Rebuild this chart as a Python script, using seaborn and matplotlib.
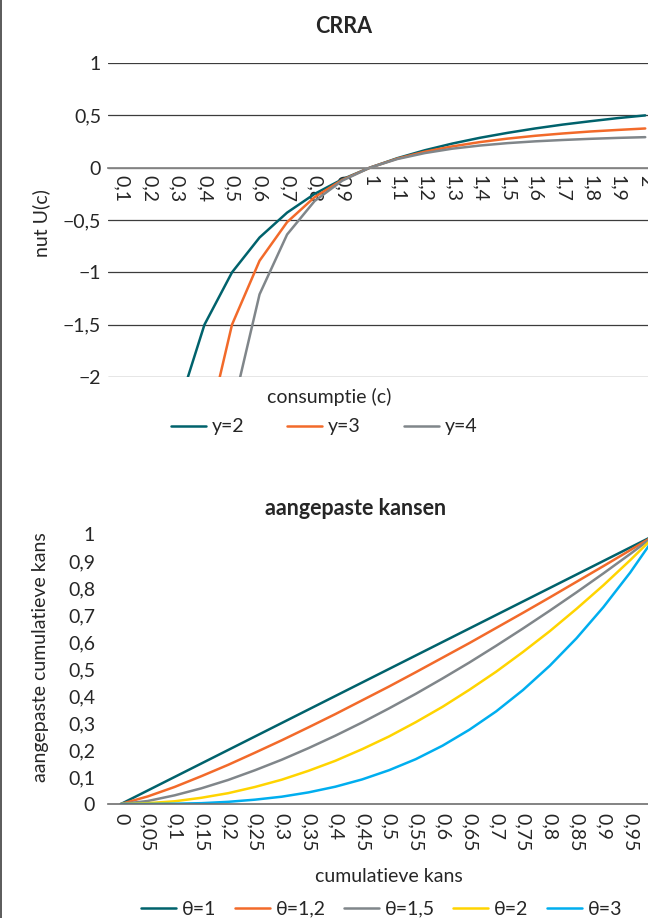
import pandas as pd
import matplotlib.pyplot as plt
from matplotlib.lines import Line2D
import seaborn as sns

# --- CRRA: nut U(c) per consumptieniveau ---
consumptie = ["0,1", "0,2", "0,3", "0,4", "0,5", "0,6", "0,7", "0,8", "0,9", "1",
              "1,1", "1,2", "1,3", "1,4", "1,5", "1,6", "1,7", "1,8", "1,9", "2"]
nut_y2 = [-9.0, -4.0, -2.333, -1.5, -1.0, -0.667, -0.429, -0.25, -0.111, 0.0,
          0.091, 0.167, 0.231, 0.286, 0.333, 0.375, 0.412, 0.444, 0.474, 0.5]
nut_y3 = [-49.5, -12.0, -5.056, -2.625, -1.5, -0.889, -0.52, -0.281, -0.117, 0.0,
          0.087, 0.153, 0.204, 0.245, 0.278, 0.305, 0.327, 0.346, 0.361, 0.375]
nut_y4 = [-333.0, -41.33, -12.01, -4.875, -2.333, -1.21, -0.638, -0.318, -0.124, 0.0,
          0.083, 0.14, 0.182, 0.212, 0.235, 0.252, 0.265, 0.276, 0.285, 0.292]
crra_reeksen = ["y=2", "y=3", "y=4"]
crra_kleuren = ["#00626C", "#F26A2A", "#80868A"]
crra_yticks = [1, 0.5, 0, -0.5, -1, -1.5, -2]
crra_ylabels = ["1", "0,5", "0", "\u22120,5", "\u22121", "\u22121,5", "\u22122"]

# --- aangepaste kansen ---
kans = ["0", "0,05", "0,1", "0,15", "0,2", "0,25", "0,3", "0,35", "0,4", "0,45", "0,5",
        "0,55", "0,6", "0,65", "0,7", "0,75", "0,8", "0,85", "0,9", "0,95", "1"]
w_t1 = [0.0, 0.05, 0.1, 0.15, 0.2, 0.25, 0.3, 0.35, 0.4, 0.45, 0.5,
        0.55, 0.6, 0.65, 0.7, 0.75, 0.8, 0.85, 0.9, 0.95, 1.0]
w_t12 = [0.0, 0.028, 0.063, 0.103, 0.145, 0.19, 0.236, 0.284, 0.333, 0.384, 0.435,
         0.488, 0.542, 0.596, 0.652, 0.708, 0.765, 0.823, 0.881, 0.94, 1.0]
w_t15 = [0.0, 0.011, 0.032, 0.058, 0.089, 0.125, 0.164, 0.207, 0.253, 0.302, 0.354,
         0.408, 0.465, 0.524, 0.586, 0.65, 0.716, 0.784, 0.854, 0.926, 1.0]
w_t2 = [0.0, 0.003, 0.01, 0.023, 0.04, 0.063, 0.09, 0.123, 0.16, 0.203, 0.25,
        0.303, 0.36, 0.423, 0.49, 0.563, 0.64, 0.723, 0.81, 0.903, 1.0]
w_t3 = [0.0, 0.0, 0.001, 0.003, 0.008, 0.016, 0.027, 0.043, 0.064, 0.091, 0.125,
        0.166, 0.216, 0.275, 0.343, 0.422, 0.512, 0.614, 0.729, 0.857, 1.0]
theta_reeksen = ["\u03b8=1", "\u03b8=1,2", "\u03b8=1,5", "\u03b8=2", "\u03b8=3"]
theta_kleuren = ["#00626C", "#F26A2A", "#80868A", "#FFD400", "#00AEEF"]
kans_yticks = [0, 0.1, 0.2, 0.3, 0.4, 0.5, 0.6, 0.7, 0.8, 0.9, 1]
kans_ylabels = ["0", "0,1", "0,2", "0,3", "0,4", "0,5", "0,6", "0,7", "0,8", "0,9", "1"]

sns.set_style("white")
plt.rcParams["font.family"] = ["Lato", "DejaVu Sans"]
TXT = "#262626"
FS = 14

df_crra = pd.DataFrame({"c": consumptie, "y=2": nut_y2, "y=3": nut_y3, "y=4": nut_y4})
df_crra = df_crra.melt(id_vars="c", var_name="reeks", value_name="nut")

df_kans = pd.DataFrame({"p": kans, theta_reeksen[0]: w_t1, theta_reeksen[1]: w_t12,
                        theta_reeksen[2]: w_t15, theta_reeksen[3]: w_t2,
                        theta_reeksen[4]: w_t3})
df_kans = df_kans.melt(id_vars="p", var_name="reeks", value_name="w")

fig = plt.figure(figsize=(6.48, 9.18), dpi=100)
ax1 = fig.add_axes([0.1667, 0.5893, 0.8503, 0.3420])
ax2 = fig.add_axes([0.1660, 0.1242, 0.8685, 0.2941])

# bovenste grafiek
sns.lineplot(data=df_crra, x="c", y="nut", hue="reeks", hue_order=crra_reeksen,
             palette=crra_kleuren, lw=1.8, sort=False, estimator=None, ax=ax1)
h1, l1 = ax1.get_legend_handles_labels()
ax1.get_legend().remove()
# x-as op y=0 (eerst, want dit zet de ticks opnieuw)
ax1.spines["bottom"].set_position(("data", 0))
ax1.set_xlim(-0.5, len(consumptie) - 0.5)
ax1.set_ylim(-2, 1)
ax1.set_xticks(range(len(consumptie)), consumptie, rotation=-90)
ax1.set_yticks(crra_yticks, crra_ylabels)
ax1.yaxis.grid(True, color="#3c3c3c", lw=0.9)
ax1.xaxis.grid(False)
for s in ["top", "right", "left"]:
    ax1.spines[s].set_visible(False)
ax1.spines["bottom"].set_color("#8a8a8a")
ax1.spines["bottom"].set_linewidth(1.3)
ax1.tick_params(axis="x", length=0, pad=5, labelsize=FS, labelcolor=TXT)
ax1.tick_params(axis="y", length=0, pad=5, labelsize=FS, labelcolor=TXT)
ax1.set_xlabel("consumptie (c)", fontsize=FS, color=TXT, va="center")
ax1.xaxis.set_label_coords(0.401, -0.064)
ax1.set_ylabel("nut U(c)", fontsize=FS, color=TXT, va="center")
ax1.yaxis.set_label_coords(-0.122, 0.49)
fig.text(0.531, 0.9706, "CRRA", fontsize=15.5, fontweight="bold", color=TXT,
         ha="center", va="center")
fig.legend(h1, l1, loc="center", bbox_to_anchor=(0.500, 0.535), ncol=3, frameon=False,
           fontsize=FS, labelcolor=TXT, handlelength=1.8, handletextpad=0.3,
           columnspacing=2.2)

# onderste grafiek
sns.lineplot(data=df_kans, x="p", y="w", hue="reeks", hue_order=theta_reeksen,
             palette=theta_kleuren, lw=1.8, sort=False, estimator=None, ax=ax2)
h2, l2 = ax2.get_legend_handles_labels()
ax2.get_legend().remove()
ax2.set_xlim(-0.5, len(kans) - 0.5)
ax2.set_ylim(0, 1)
ax2.set_xticks(range(len(kans)), kans, rotation=-90)
ax2.set_yticks(kans_yticks, kans_ylabels)
ax2.grid(False)
for s in ["top", "right", "left"]:
    ax2.spines[s].set_visible(False)
ax2.spines["bottom"].set_color("#6e6e6e")
ax2.spines["bottom"].set_linewidth(1.2)
ax2.tick_params(axis="x", length=0, pad=6.5, labelsize=FS, labelcolor=TXT)
ax2.tick_params(axis="y", length=0, pad=9, labelsize=FS, labelcolor=TXT)
ax2.set_xlabel("cumulatieve kans", fontsize=FS, color=TXT, va="center")
ax2.xaxis.set_label_coords(0.500, -0.270)
ax2.set_ylabel("aangepaste cumulatieve kans", fontsize=FS, color=TXT, va="center")
ax2.yaxis.set_label_coords(-0.120, 0.544)
fig.text(0.549, 0.4466, "aangepaste kansen", fontsize=15.5, fontweight="bold", color=TXT,
         ha="center", va="center")
fig.legend(h2, l2, loc="center", bbox_to_anchor=(0.589, 0.0098), ncol=5, frameon=False,
           fontsize=FS, labelcolor=TXT, handlelength=1.8, handletextpad=0.3,
           columnspacing=0.95)

# rand links
fig.add_artist(Line2D([0.0015, 0.0015], [0, 1], transform=fig.transFigure,
                      color="#5a5a5a", lw=1.4))

fig.savefig("out.png", dpi=100)
